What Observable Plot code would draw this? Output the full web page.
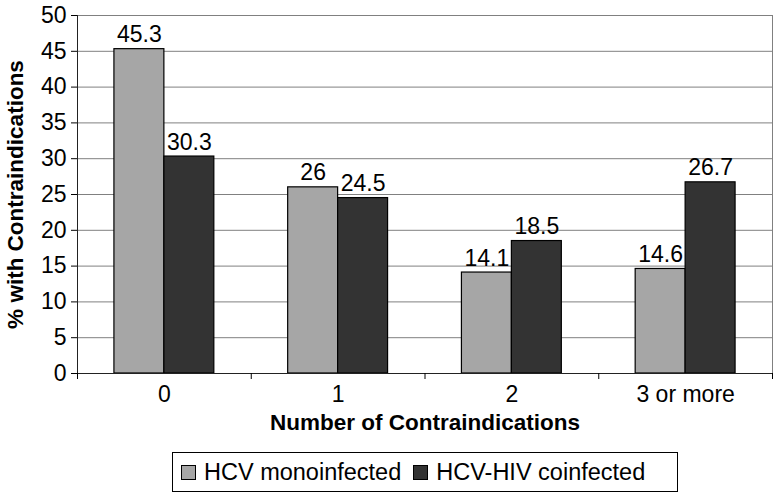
<!DOCTYPE html>
<html>
<head>
<meta charset="utf-8">
<script src="https://cdn.jsdelivr.net/npm/d3@7"></script>
<script src="https://cdn.jsdelivr.net/npm/@observablehq/plot@0.6"></script>
<style>
  body { margin: 0; background: #fff; font-family: "Liberation Sans", Arial, sans-serif; }
  #legend { margin: 12px 0 0 172px; width: 504px; height: 38px; border: 1px solid #000;
    display: flex; align-items: center; font-size: 23.5px; color: #000; }
  .sw { display: inline-block; width: 13px; height: 13px; border: 1.5px solid #000; margin: 0 8px 0 8px; }
</style>
</head>
<body>
<div id="chart"></div>
<div id="legend"></div>
<script>
const categories = ["0", "1", "2", "3 or more"];
const seriesNames = ["HCV monoinfected", "HCV-HIV coinfected"];
const monoinfected = [45.3, 26, 14.1, 14.6];
const coinfected = [30.3, 24.5, 18.5, 26.7];
const colors = ["#a6a6a6", "#333333"];
const yTicks = [0, 5, 10, 15, 20, 25, 30, 35, 40, 45, 50];

const barWidth = 0.2875; // fraction of a category slot
const rows = [];
categories.forEach((c, i) => {
  [monoinfected, coinfected].forEach((vals, s) => {
    const x1 = s === 0 ? i - barWidth : i;
    rows.push({cat: c, i, series: seriesNames[s], value: vals[i], x1, x2: x1 + barWidth, xm: x1 + barWidth / 2});
  });
});

const fs = 23;
const chart = Plot.plot({
  width: 776,
  height: 440,
  marginTop: 15,
  marginLeft: 77,
  marginRight: 4,
  marginBottom: 67,
  style: {fontFamily: "Liberation Sans, Arial, sans-serif", fontSize: fs + "px", color: "#000", background: "#fff"},
  x: {type: "linear", domain: [-0.5, categories.length - 0.5]},
  y: {domain: [0, 50]},
  color: {domain: seriesNames, range: colors},
  marks: [
    Plot.gridY(yTicks, {stroke: "#808080", strokeOpacity: 1}),
    Plot.ruleX([categories.length - 0.5], {stroke: "#808080"}),
    Plot.rectY(rows, {x1: "x1", x2: "x2", y: "value", fill: "series", stroke: "#000", strokeWidth: 1.2}),
    Plot.text(rows, {x: "xm", y: "value", text: d => String(d.value), lineAnchor: "bottom", dy: -7, fontSize: fs, fill: "#000"}),
    Plot.ruleX([-0.5], {stroke: "#222"}),
    Plot.ruleY([0], {stroke: "#222"}),
    Plot.axisY({ticks: yTicks, tickSize: 6, tickPadding: 5, label: null, fontSize: fs}),
    Plot.axisX({ticks: d3.range(categories.length + 1).map(k => k - 0.5), tickSize: 6, tickFormat: () => "", label: null}),
    Plot.axisX({ticks: d3.range(categories.length), tickSize: 0, tickPadding: 12, tickFormat: i => categories[i], label: null, fontSize: fs}),
    Plot.text(["% with Contraindications"], {frameAnchor: "left", dx: -62, rotate: -90, textAnchor: "middle", lineAnchor: "middle", fontWeight: "bold", fontSize: 22.5}),
    Plot.text(["Number of Contraindications"], {frameAnchor: "bottom", dy: 49, textAnchor: "middle", lineAnchor: "middle", fontWeight: "bold", fontSize: 22.5})
  ]
});
document.getElementById("chart").appendChild(chart);

const legend = document.getElementById("legend");
seriesNames.forEach((name, s) => {
  const sw = document.createElement("span");
  sw.className = "sw";
  sw.style.background = colors[s];
  if (s === 1) sw.style.marginLeft = "12px";
  legend.appendChild(sw);
  const t = document.createElement("span");
  t.textContent = name;
  legend.appendChild(t);
});
</script>
</body>
</html>
